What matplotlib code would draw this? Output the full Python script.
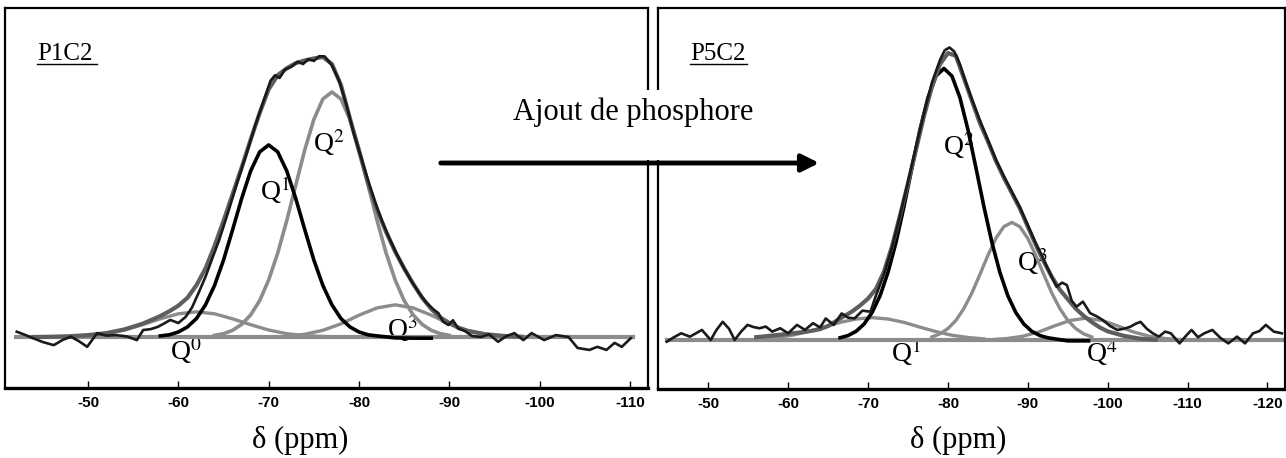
"""
Spectres RMN 29Si : décomposition P1C2 / P5C2 (effet de l'ajout de phosphore).
"""
import matplotlib
matplotlib.use("Agg")
import matplotlib.pyplot as plt
from matplotlib.patches import Rectangle, FancyArrowPatch

plt.rcParams["mathtext.fontset"] = "stix"
SERIF = ["Liberation Serif", "DejaVu Serif"]

# ---------------- P1C2 (gauche) ----------------
p1_exp_ppm = [-42.1, -43.0, -43.9, -45.0, -46.2, -47.2, -48.1, -49.0, -49.9, -51.0,
              -52.0, -53.1, -54.3, -55.4, -56.1, -56.9, -57.7, -58.4, -59.1, -60.0,
              -60.8, -61.5, -62.2, -63.0, -63.8, -64.5, -65.5, -66.5, -67.5, -68.5, -69.5,
              -70.2, -70.7, -71.2, -71.8, -72.5, -73.2, -73.8, -74.4, -75.0, -75.6,
              -76.2, -77.0, -77.8, -78.6, -79.4, -80.2, -81.0, -81.8, -82.6, -83.4,
              -84.2, -85.0, -85.8, -86.6, -87.4, -88.2, -88.8, -89.3, -89.9, -90.4,
              -91.0, -91.7, -92.5, -93.5, -94.4, -95.4, -96.3, -97.2, -98.2, -99.1,
              -99.8, -100.5, -101.8, -103.2, -104.2, -105.5, -106.4, -107.4, -108.3,
              -109.1, -110.1]
p1_exp = [1.9, 0.8, -0.4, -1.8, -2.9, -1.0, 0.1, -1.5, -3.5, 1.4,
          0.5, 0.7, 0.2, -1.1, 2.5, 2.8, 3.6, 4.8, 6.1, 5.0,
          7.2, 10.5, 15.5, 21.5, 28.5, 34.5, 44.5, 55.0, 65.0, 75.5, 85.0,
          91.5, 93.5, 92.5, 95.5, 96.5, 98.3, 97.5, 99.2, 98.6, 100.3,
          100.2, 97.0, 91.5, 83.0, 73.0, 64.5, 56.0, 48.0, 41.0, 35.0,
          29.5, 24.5, 20.0, 16.0, 12.5, 10.0, 8.5, 5.5, 4.3, 6.0,
          3.0, 2.2, 0.4, 0.0, 1.0, -1.7, 0.3, 1.4, -1.1, 1.4,
          0.2, -1.1, 0.7, 0.0, -3.9, -4.6, -3.5, -4.6, -2.1,
          -3.5, -0.4]

p1_fit_ppm = [-44, -46, -48, -50, -52, -54, -56, -58, -59, -60, -61, -62, -63, -64,
              -65, -66, -67, -68, -69, -70, -71, -72, -73, -74, -75, -76, -77, -78,
              -79, -80, -81, -82, -83, -84, -85, -86, -87, -88, -89, -90, -91, -92,
              -94, -96, -98]
p1_fit = [0.0, 0.1, 0.3, 0.7, 1.4, 2.7, 4.7, 7.5, 9.2, 11.2, 14.0, 18.5, 24.5, 32.5,
          41.5, 51.0, 60.5, 70.5, 80.0, 88.5, 93.5, 96.0, 97.8, 98.8, 99.5, 100.0, 97.5, 90.0,
          78.0, 66.5, 55.0, 45.5, 37.5, 30.5, 24.5, 19.0, 14.0, 10.0, 7.0, 5.0, 3.3, 2.2,
          1.0, 0.4, 0.1]

p1_q0_ppm = [-48, -50, -52, -54, -56, -58, -60, -62, -64, -66, -68, -70, -72, -74, -76, -78]
p1_q0 = [0.2, 0.5, 1.2, 2.5, 4.4, 6.5, 8.3, 9.0, 8.3, 6.5, 4.4, 2.5, 1.2, 0.5, 0.2, 0.0]

p1_q1_ppm = [-58, -59, -60, -61, -62, -63, -64, -65, -66, -67, -68, -69, -70, -71, -72,
             -73, -74, -75, -76, -77, -78, -79, -80, -81, -82, -84, -86, -88]
p1_q1 = [0.4, 0.8, 1.8, 3.6, 6.6, 11.5, 18.4, 27.5, 38.3, 49.4, 59.3, 66.1, 68.6, 66.1, 59.3,
         49.4, 38.3, 27.5, 18.4, 11.5, 6.6, 3.6, 1.8, 0.8, 0.4, -0.3, -0.4, -0.4]

p1_q2_ppm = [-64, -65, -66, -67, -68, -69, -70, -71, -72, -73, -74, -75, -76, -77,
             -78, -79, -80, -81, -82, -83, -84, -85, -86, -87, -88, -89, -90]
p1_q2 = [0.6, 1.2, 2.4, 4.5, 7.9, 13.0, 20.4, 30.0, 41.6, 54.3, 66.9, 77.7, 85.0, 87.5,
         85.0, 77.7, 66.9, 54.3, 41.6, 30.0, 20.4, 13.0, 7.9, 4.5, 2.4, 1.2, 0.6]

p1_q3_ppm = [-72, -74, -76, -78, -80, -82, -84, -86, -88, -90, -92, -94, -96]
p1_q3 = [0.3, 1.0, 2.4, 4.7, 7.8, 10.4, 11.5, 10.4, 7.8, 4.7, 2.4, 1.0, 0.3]

p1_base_ppm = [-42.0, -110.3]
p1_base = [0.0, 0.0]

# ---------------- P5C2 (droite) ----------------
p5_exp_ppm = [-44.8, -45.7, -46.6, -47.7, -49.2, -50.3, -51.0, -51.8, -52.6, -53.3,
              -54.1, -54.9, -55.7, -56.4, -57.2, -58.0, -59.0, -60.0, -61.1, -62.1,
              -63.1, -64.0, -64.7, -65.7, -66.7, -67.5, -68.3, -69.3, -70.3, -71.0,
              -72.0, -73.0, -74.0, -75.0, -76.0, -77.0, -78.0, -79.0, -79.6, -80.2,
              -80.8, -81.5, -82.2, -83.0, -84.0, -85.0, -86.0, -87.0, -88.0, -89.0,
              -90.0, -91.0, -91.8, -92.5, -93.6, -94.3, -94.9, -95.5, -96.1, -96.9,
              -97.8, -98.6, -99.4, -100.3, -101.2, -102.0, -102.8, -103.5, -104.1, -104.9,
              -105.6, -106.4, -107.2, -107.9, -109.0, -109.8, -110.5, -111.3, -112.1, -113.1,
              -114.1, -115.1, -116.2, -117.2, -118.2, -119.0, -119.8, -120.8, -121.8]
p5_exp = [-0.6, 1.0, 2.4, 1.2, 3.6, 0.0, 3.5, 6.5, 4.0, 0.0,
          3.0, 5.4, 4.6, 4.2, 4.8, 3.0, 4.2, 2.4, 5.4, 3.6,
          6.0, 4.5, 7.7, 5.4, 9.5, 8.0, 7.7, 10.5, 10.1, 16.0,
          23.5, 33.0, 44.5, 56.5, 69.0, 81.0, 92.0, 100.0, 103.5, 104.5,
          103.0, 98.5, 92.5, 86.0, 78.5, 71.5, 64.5, 58.5, 53.0, 47.5,
          41.0, 34.5, 30.0, 25.5, 19.0, 20.5, 19.6, 14.0, 11.9, 13.7,
          9.6, 8.5, 7.1, 5.0, 3.6, 4.0, 4.7, 5.8, 6.5, 4.0,
          2.5, 1.2, 3.0, 2.4, -1.2, 1.5, 3.6, 1.0, 2.4, 3.6,
          0.8, -1.2, 1.2, -1.2, 2.4, 3.2, 5.4, 3.0, 2.4]

p5_fit_ppm = [-56, -58, -60, -62, -63, -64, -65, -66, -67, -68, -69, -70, -71, -72,
              -73, -74, -75, -76, -77, -78, -79, -80, -81, -82, -83, -84, -85, -86,
              -87, -88, -89, -90, -91, -92, -93, -94, -95, -96, -97, -98, -99, -100,
              -102, -104, -106]
p5_fit = [1.0, 1.6, 2.2, 2.9, 3.3, 3.9, 5.0, 6.8, 8.5, 10.2, 12.3, 14.8, 18.3, 24.5,
          33.5, 44.5, 56.0, 68.0, 80.0, 90.5, 98.5, 102.5, 101.5, 93.5, 85.5, 77.5, 71.0, 64.0,
          58.0, 52.5, 47.0, 40.5, 34.0, 28.0, 22.6, 18.0, 14.6, 11.2, 8.6, 6.4, 4.5, 3.1,
          1.5, 0.5, 0.1]

p5_q1_ppm = [-56.5, -58.5, -60.5, -62.5, -64.5, -66.5, -68.5, -70.5, -72.5, -74.5,
             -76.5, -78.5, -80.5, -82.5, -84.5]
p5_q1 = [0.4, 0.9, 1.7, 3.0, 4.6, 6.3, 7.5, 8.0, 7.5, 6.3, 4.6, 3.0, 1.7, 0.9, 0.4]

p5_q2_ppm = [-66.5, -67.5, -68.5, -69.5, -70.5, -71.5, -72.5, -73.5, -74.5, -75.5,
             -76.5, -77.5, -78.5, -79.5, -80.5, -81.5, -82.5, -83.5, -84.5, -85.5,
             -86.5, -87.5, -88.5, -89.5, -90.5, -91.5, -92.5, -95.0, -97.6]
p5_q2 = [0.8, 1.6, 3.1, 5.7, 9.8, 15.8, 24.2, 34.9, 47.7, 61.6,
         75.2, 86.6, 94.3, 97.0, 94.3, 86.6, 75.2, 61.6, 47.7, 34.9,
         24.2, 15.8, 9.8, 5.7, 3.1, 1.6, 0.8, -0.3, -0.3]

p5_q3_ppm = [-78, -79, -80, -81, -82, -83, -84, -85, -86, -87, -88, -89, -90, -91,
             -92, -93, -94, -95, -96, -97, -98]
p5_q3 = [1.1, 2.2, 4.1, 7.0, 11.3, 16.8, 23.4, 30.2, 36.3, 40.5, 42.0, 40.5, 36.3, 30.2,
         23.4, 16.8, 11.3, 7.0, 4.1, 2.2, 1.1]

p5_q4_ppm = [-85.3, -87.3, -89.3, -91.3, -93.3, -95.3, -97.3, -99.3, -101.3, -103.3,
             -105.3, -107.3, -109.3]
p5_q4 = [0.1, 0.5, 1.3, 2.8, 5.0, 7.0, 7.8, 7.0, 5.0, 2.8, 1.3, 0.5, 0.1]

p5_base_ppm = [-44.8, -122.0]
p5_base = [0.0, 0.0]

ticks_p1 = [-50, -60, -70, -80, -90, -100, -110]
ticks_p5 = [-50, -60, -70, -80, -90, -100, -110, -120]

GRAY = "#8c8c8c"
FIT = "#5e5e5e"


def style_axes(ax, ticks, xlim, ylim):
    ax.set_xlim(*xlim)
    ax.set_ylim(*ylim)
    ax.set_yticks([])
    ax.set_xticks(ticks)
    ax.set_xticklabels([str(t) for t in ticks], fontweight="bold", fontsize=11,
                       family=["Liberation Sans Narrow", "Liberation Sans", "DejaVu Sans"])
    ax.tick_params(axis="x", direction="in", length=5, width=1, pad=6)
    for s in ax.spines.values():
        s.set_linewidth(1.6)
    ax.spines["bottom"].set_linewidth(2.4)


def q_label(ax, x, y, txt):
    ax.text(x, y, txt, fontsize=20, family=SERIF, ha="left", va="baseline", zorder=1)


fig = plt.figure(figsize=(12.86, 4.58), dpi=100)
axL = fig.add_axes([5 / 1286, 70 / 458, 643 / 1286, 380 / 458])
axR = fig.add_axes([658 / 1286, 69 / 458, 627 / 1286, 381 / 458])

# --- gauche ---
axL.plot(p1_base_ppm, p1_base, color=GRAY, lw=3)
axL.plot(p1_q0_ppm, p1_q0, color=GRAY, lw=2.4)
axL.plot(p1_q3_ppm, p1_q3, color=GRAY, lw=2.4)
axL.plot(p1_q2_ppm, p1_q2, color=GRAY, lw=2.6)
axL.plot(p1_q1_ppm, p1_q1, color="black", lw=2.6)
axL.plot(p1_fit_ppm, p1_fit, color=FIT, lw=3.0)
axL.plot(p1_exp_ppm, p1_exp, color="#1a1a1a", lw=1.9)
style_axes(axL, ticks_p1, (-40.8, -112.0), (-18.2, 117.5))
q_label(axL, -59.1, -8.2, r"Q$^{0}$")
q_label(axL, -69.0, 48.9, r"Q$^{1}$")
q_label(axL, -74.9, 66.0, r"Q$^{2}$")
q_label(axL, -83.1, -0.4, r"Q$^{3}$")
axL.text(0.05, 0.863, "P1C2", transform=axL.transAxes, fontsize=18, family=SERIF,
         ha="left", va="baseline")
axL.plot([0.05, 0.143], [0.853, 0.853], transform=axL.transAxes, color="black", lw=1)

# --- droite ---
axR.plot(p5_base_ppm, p5_base, color=GRAY, lw=3)
axR.plot(p5_q1_ppm, p5_q1, color=GRAY, lw=2.4)
axR.plot(p5_q4_ppm, p5_q4, color=GRAY, lw=2.4)
axR.plot(p5_q3_ppm, p5_q3, color=GRAY, lw=2.4)
axR.plot(p5_q2_ppm, p5_q2, color="black", lw=2.6)
axR.plot(p5_fit_ppm, p5_fit, color=FIT, lw=3.0)
axR.plot(p5_exp_ppm, p5_exp, color="#1a1a1a", lw=1.9)
style_axes(axR, ticks_p5, (-43.7, -122.2), (-17.5, 118.6))
q_label(axR, -72.9, -7.9, r"Q$^{1}$")
q_label(axR, -79.4, 66.0, r"Q$^{2}$")
q_label(axR, -88.7, 24.6, r"Q$^{3}$")
q_label(axR, -97.3, -7.9, r"Q$^{4}$")
axR.text(0.051, 0.863, "P5C2", transform=axR.transAxes, fontsize=18, family=SERIF,
         ha="left", va="baseline")
axR.plot([0.051, 0.142], [0.853, 0.853], transform=axR.transAxes, color="black", lw=1)

# --- flèche "Ajout de phosphore" ---
fig.add_artist(Rectangle((630 / 1286, (458 - 160) / 458), 45 / 1286, 70 / 458,
                         transform=fig.transFigure, facecolor="white",
                         edgecolor="none", zorder=5))
fig.text(633 / 1286, (458 - 120) / 458, "Ajout de phosphore", fontsize=22,
         family=SERIF, ha="center", va="baseline", zorder=6)
fig.add_artist(FancyArrowPatch((438 / 1286, (458 - 163) / 458),
                               (822 / 1286, (458 - 163) / 458),
                               transform=fig.transFigure, arrowstyle="-|>",
                               mutation_scale=26, lw=3.5, color="black", zorder=7))

fig.text(300 / 1286, 18 / 458, "δ (ppm)", fontsize=22, family=SERIF,
         ha="center", va="center")
fig.text(958 / 1286, 18 / 458, "δ (ppm)", fontsize=22, family=SERIF,
         ha="center", va="center")

fig.savefig("out.png", dpi=100)
